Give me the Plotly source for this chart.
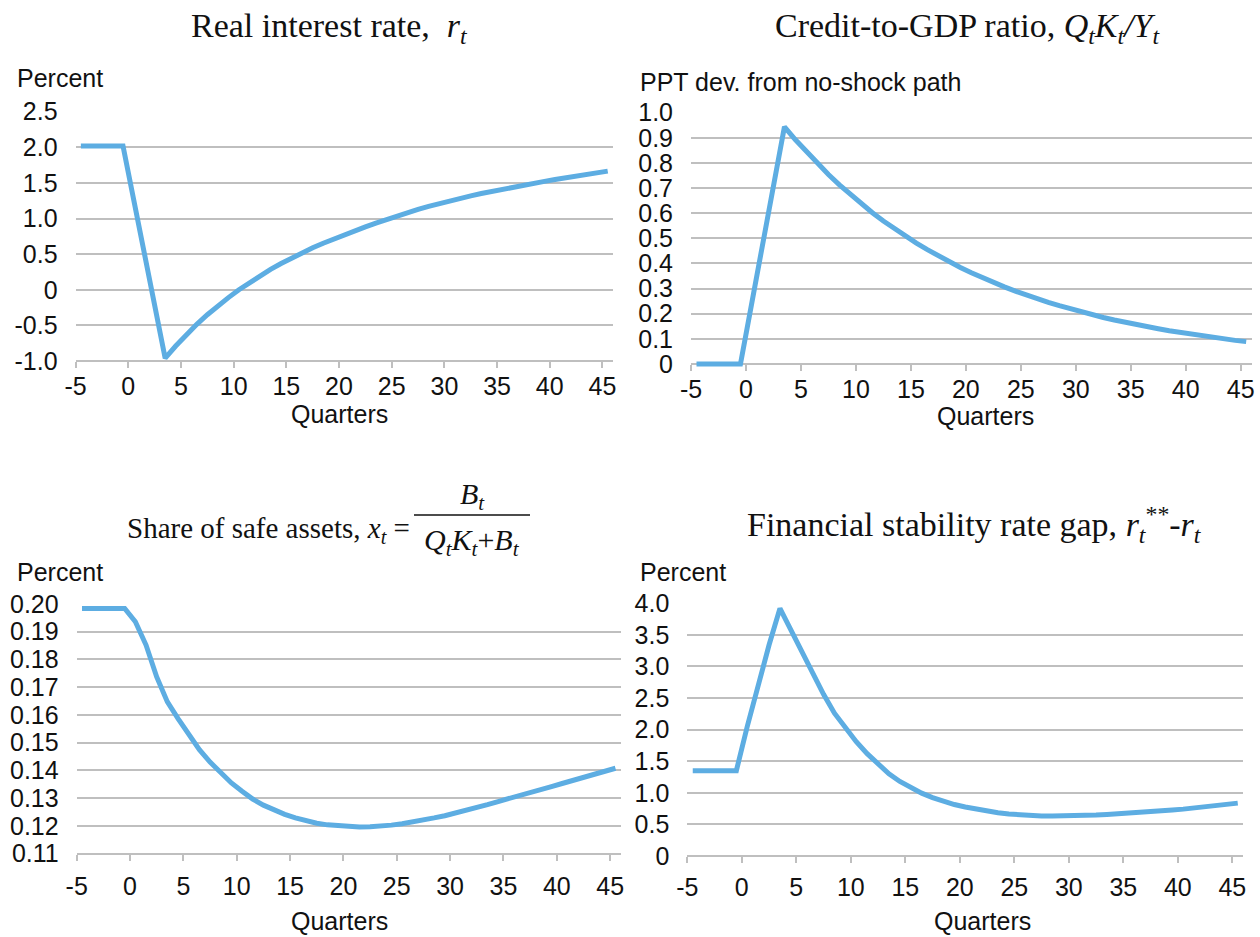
import plotly.graph_objects as go

W, H = 1260, 937

# Quarters relative to the shock (one category per quarter)
quarters = list(range(-5, 46))

# Real interest rate, percent
real_rate = [2.02, 2.02, 2.02, 2.02, 2.02,
             1.275, 0.53, -0.215, -0.96,
             -0.79, -0.63, -0.485, -0.35, -0.225, -0.11, 0.0, 0.102, 0.197, 0.286,
             0.369, 0.447, 0.520, 0.589, 0.654, 0.715, 0.772, 0.829, 0.884, 0.937,
             0.988, 1.037, 1.084, 1.129, 1.172, 1.213, 1.252, 1.286, 1.319, 1.351,
             1.382, 1.412, 1.441, 1.469, 1.496, 1.522, 1.547, 1.572, 1.596, 1.620,
             1.643, 1.666]

# Credit-to-GDP ratio, ppt deviation from no-shock path
credit_gdp = [0.0, 0.0, 0.0, 0.0, 0.0,
              0.236, 0.472, 0.708, 0.944,
              0.892, 0.844, 0.798, 0.754, 0.713, 0.674, 0.637, 0.602, 0.569, 0.538,
              0.509, 0.481, 0.455, 0.430, 0.407, 0.384, 0.363, 0.343, 0.325, 0.307,
              0.290, 0.274, 0.259, 0.245, 0.232, 0.219, 0.207, 0.196, 0.185, 0.175,
              0.165, 0.156, 0.148, 0.140, 0.132, 0.125, 0.118, 0.112, 0.106, 0.100,
              0.094, 0.089]

# Share of safe assets, percent
safe_share = [0.1984, 0.1984, 0.1984, 0.1984, 0.1984,
              0.1936, 0.1852, 0.1737, 0.1647,
              0.1587, 0.1530, 0.1475, 0.1430, 0.1390, 0.1355, 0.1325, 0.1297, 0.1275, 0.1257,
              0.1242, 0.1229, 0.1218, 0.1210, 0.1204, 0.1200, 0.1197, 0.1196, 0.1197, 0.1199,
              0.1203, 0.1208, 0.1214, 0.1221, 0.1229, 0.1237, 0.1246, 0.1256, 0.1266, 0.1277,
              0.1288, 0.1298, 0.1309, 0.1320, 0.1331, 0.1342, 0.1353, 0.1364, 0.1375, 0.1386,
              0.1397, 0.1408]

# Financial stability rate gap, percent
rate_gap = [1.35, 1.35, 1.35, 1.35, 1.35,
            2.05, 2.72, 3.34, 3.92,
            3.57, 3.23, 2.89, 2.56, 2.26, 2.02, 1.81, 1.62, 1.45, 1.30,
            1.18, 1.08, 0.995, 0.925, 0.865, 0.815, 0.775, 0.74, 0.71, 0.685,
            0.665, 0.65, 0.64, 0.635, 0.633, 0.634, 0.637, 0.643, 0.650, 0.658,
            0.667, 0.677, 0.688, 0.700, 0.713, 0.727, 0.742, 0.758, 0.776, 0.795,
            0.815, 0.837]

x_ticks = [-5, 0, 5, 10, 15, 20, 25, 30, 35, 40, 45]

tl_ticks = [-1.0, -0.5, 0.0, 0.5, 1.0, 1.5, 2.0, 2.5]
tl_text = ["-1.0", "-0.5", "0", "0.5", "1.0", "1.5", "2.0", "2.5"]
tr_ticks = [0.0, 0.1, 0.2, 0.3, 0.4, 0.5, 0.6, 0.7, 0.8, 0.9, 1.0]
tr_text = ["0", "0.1", "0.2", "0.3", "0.4", "0.5", "0.6", "0.7", "0.8", "0.9", "1.0"]
bl_ticks = [0.11, 0.12, 0.13, 0.14, 0.15, 0.16, 0.17, 0.18, 0.19, 0.20]
bl_text = ["0.11", "0.12", "0.13", "0.14", "0.15", "0.16", "0.17", "0.18", "0.19", "0.20"]
br_ticks = [0.0, 0.5, 1.0, 1.5, 2.0, 2.5, 3.0, 3.5, 4.0]
br_text = ["0", "0.5", "1.0", "1.5", "2.0", "2.5", "3.0", "3.5", "4.0"]

LINE = "#5DADE2"
GRID = "#BFBFBF"
SANS = "Liberation Sans, Arial, sans-serif"
SERIF = "Liberation Serif, Times New Roman, serif"
TXT = "#111111"


def px(x):
    return x / W


def py(y):
    return 1 - y / H


# panel frames in pixels: left, right, top gridline, bottom axis; y range;
# and the gap between the axis and its quarter labels
panels = [
    dict(x0=75.6, x1=613.0, yt=111.7, yb=361.0, lo=-1.0, hi=2.5, tv=tl_ticks, tt=tl_text,
         y=real_rate, gap=-3),
    dict(x0=691.0, x1=1251.7, yt=112.7, yb=364.0, lo=0.0, hi=1.0, tv=tr_ticks, tt=tr_text,
         y=credit_gdp, gap=-3),
    dict(x0=76.7, x1=620.8, yt=604.0, yb=853.7, lo=0.11, hi=0.20, tv=bl_ticks, tt=bl_text,
         y=safe_share, gap=4),
    dict(x0=687.3, x1=1243.2, yt=603.3, yb=856.0, lo=0.0, hi=4.0, tv=br_ticks, tt=br_text,
         y=rate_gap, gap=3),
]

fig = go.Figure()
layout = {}
EXT = 6  # px of room below the axis so the line is not clipped at the bottom
for i, p in enumerate(panels, start=1):
    sfx = "" if i == 1 else str(i)
    scale = (p["hi"] - p["lo"]) / (p["yb"] - p["yt"])
    lo_ext = p["lo"] - EXT * scale
    fig.add_trace(go.Scatter(
        x=[q + 0.5 for q in quarters], y=p["y"], mode="lines",
        line=dict(color=LINE, width=5), xaxis="x" + sfx, yaxis="y" + sfx,
        showlegend=False, hoverinfo="skip",
    ))
    layout["xaxis" + sfx] = dict(
        domain=[px(p["x0"]), px(p["x1"])], range=[-5, 46],
        anchor="free", position=py(p["yb"]), automargin=False, layer="below traces",
        tickvals=x_ticks, ticktext=[str(v) for v in x_ticks],
        ticks="outside", ticklen=6, tickwidth=1.5, tickcolor=GRID,
        showgrid=False, zeroline=False, showline=True, linecolor=GRID, linewidth=2,
        tickfont=dict(family=SANS, size=25, color=TXT), ticklabelstandoff=p["gap"],
        fixedrange=True,
    )
    layout["yaxis" + sfx] = dict(
        domain=[py(p["yb"] + EXT), py(p["yt"])], range=[lo_ext, p["hi"]],
        anchor="x" + sfx, automargin=False, layer="below traces",
        tickvals=p["tv"], ticktext=p["tt"],
        showgrid=True, gridcolor=GRID, gridwidth=2, zeroline=False,
        showline=False, ticks="",
        tickfont=dict(family=SANS, size=25, color=TXT), ticklabelstandoff=17,
        fixedrange=True,
    )

ann = []


def text(x, y, s, size, family, xa="center", ya="middle"):
    ann.append(dict(x=px(x), y=py(y), xref="paper", yref="paper", text=s,
                    showarrow=False, xanchor=xa, yanchor=ya,
                    font=dict(family=family, size=size, color=TXT)))


# panel titles
text(329, 28, "Real interest rate,  <i>r</i><sub><i>t</i></sub>", 34, SERIF)
text(968, 28, "Credit-to-GDP ratio, <i>Q</i><sub><i>t</i></sub><i>K</i><sub><i>t</i></sub>"
     "<i>/Y</i><sub><i>t</i></sub>", 34, SERIF)
text(412, 530, "Share of safe assets, <i>x</i><sub><i>t</i></sub> =", 29, SERIF, xa="right")
text(472, 496, "<i>B</i><sub><i>t</i></sub>", 30, SERIF)
text(472, 542, "<i>Q</i><sub><i>t</i></sub><i>K</i><sub><i>t</i></sub>+<i>B</i><sub><i>t</i></sub>",
     30, SERIF)
text(974, 524, "Financial stability rate gap, <i>r</i><sub><i>t</i></sub><sup>**</sup>"
     "-<i>r</i><sub><i>t</i></sub>", 34, SERIF)

# unit labels
text(15, 78, "Percent", 25, SANS, xa="left")
text(638, 82, "PPT dev. from no-shock path", 25, SANS, xa="left")
text(15, 572, "Percent", 25, SANS, xa="left")
text(638, 572, "Percent", 25, SANS, xa="left")

# x-axis titles
text(339, 414, "Quarters", 25, SANS)
text(985, 416, "Quarters", 25, SANS)
text(339, 921, "Quarters", 25, SANS)
text(982, 921, "Quarters", 25, SANS)

fig.update_layout(
    width=W, height=H, margin=dict(l=0, r=0, t=0, b=0, autoexpand=False),
    paper_bgcolor="white", plot_bgcolor="white",
    annotations=ann,
    shapes=[dict(type="line", xref="paper", yref="paper",
                 x0=px(414), x1=px(530), y0=py(515), y1=py(515),
                 line=dict(color=TXT, width=1.5))],
    **layout,
)

fig.write_html("out.html")
